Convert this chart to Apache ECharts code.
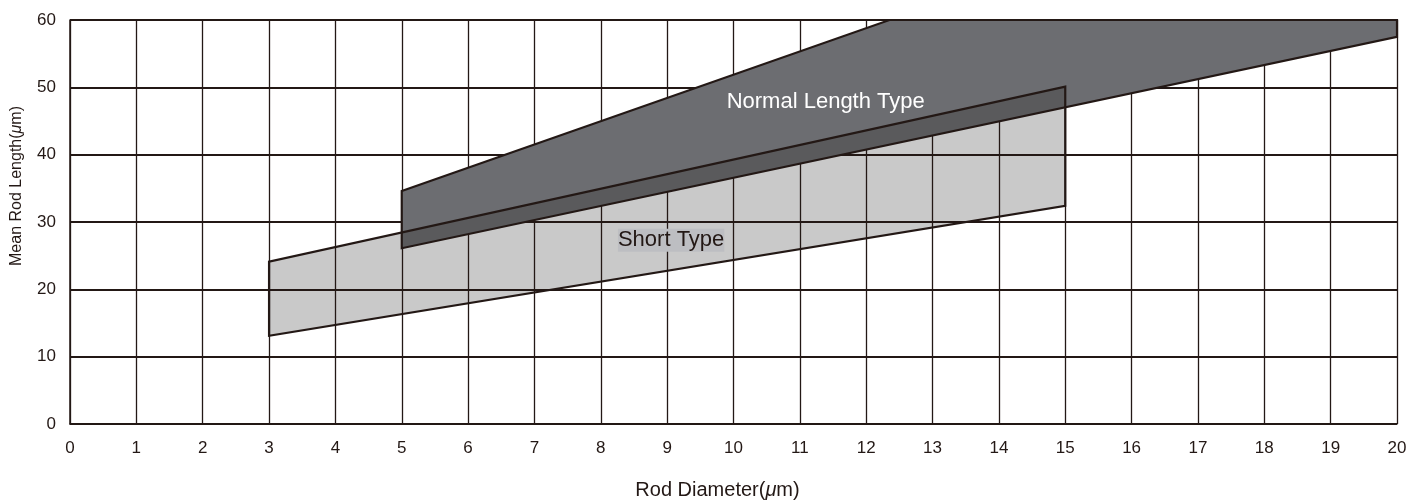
<!DOCTYPE html>
<html>
<head>
<meta charset="utf-8">
<script src="https://cdn.jsdelivr.net/npm/echarts@6/dist/echarts.min.js"></script>
<style>html,body{margin:0;padding:0;background:#fff}#c{width:1424px;height:500px}</style>
</head>
<body>
<div id="c"></div>
<script>
// Polygon vertices (Rod Diameter, Mean Rod Length)
const shortX = [3, 3, 15, 15];
const shortY = [13.1, 24.1, 50.1, 32.4];
const normalX = [5, 5, 12.35, 20, 20];
const normalY = [26.1, 34.6, 60, 60, 57.5];
// Labels
const labelNames = ['Normal Length Type', 'Short Type'];
const labelX = [11.39, 9.06];
const labelY = [47.9, 27.3];
const xTicks = [0,1,2,3,4,5,6,7,8,9,10,11,12,13,14,15,16,17,18,19,20];
const yTicks = [0,10,20,30,40,50,60];

const INK = '#231815';
const FONT = "'Liberation Sans Narrow', 'Liberation Sans', Arial, sans-serif";
const FONT2 = "'Liberation Sans', Arial, sans-serif";

function pts(xs, ys) { return xs.map((x, i) => [x, ys[i]]); }
const shortPoly = pts(shortX, shortY);
const normalPoly = pts(normalX, normalY);

// Sutherland-Hodgman clip (subject by convex clip polygon)
function area(p) { let s = 0; for (let i = 0; i < p.length; i++) { const a = p[i], b = p[(i + 1) % p.length]; s += a[0] * b[1] - b[0] * a[1]; } return s / 2; }
function clip(subject, clipPoly) {
  const sign = area(clipPoly) > 0 ? 1 : -1;
  let out = subject.slice();
  for (let i = 0; i < clipPoly.length; i++) {
    const A = clipPoly[i], B = clipPoly[(i + 1) % clipPoly.length];
    const cr = p => (B[0] - A[0]) * (p[1] - A[1]) - (B[1] - A[1]) * (p[0] - A[0]);
    const inside = p => sign * cr(p) >= -1e-9;
    const inter = (P, Q) => { const d1 = cr(P), d2 = cr(Q); const t = d1 / (d1 - d2); return [P[0] + t * (Q[0] - P[0]), P[1] + t * (Q[1] - P[1])]; };
    const inp = out; out = [];
    for (let j = 0; j < inp.length; j++) {
      const P = inp[j], Q = inp[(j + 1) % inp.length];
      const pi = inside(P), qi = inside(Q);
      if (pi) { out.push(P); if (!qi) out.push(inter(P, Q)); }
      else if (qi) { out.push(inter(P, Q)); }
    }
    if (!out.length) break;
  }
  return out;
}
const overlapPoly = clip(shortPoly, normalPoly);

function polySeries(poly, fill, stroke, z) {
  return {
    type: 'custom', z: z, silent: true, clip: false,
    data: poly,
    renderItem: function (params, api) {
      if (params.dataIndex !== 0) return null;
      return {
        type: 'polygon',
        shape: { points: poly.map(p => api.coord(p)) },
        style: { fill: fill, stroke: stroke, lineWidth: 2.2, lineJoin: 'miter' }
      };
    }
  };
}

const chart = echarts.init(document.getElementById('c'), null, { renderer: 'canvas' });
chart.setOption({
  animation: false,
  backgroundColor: '#fff',
  grid: { left: 70, right: 27, top: 20, bottom: 76, containLabel: false, outerBoundsMode: 'none' },
  xAxis: {
    type: 'value', min: 0, max: 20, interval: 1, z: 1,
    axisLine: { show: true, lineStyle: { color: INK, width: 1.5 } },
    axisTick: { show: false },
    splitLine: { show: true, lineStyle: { color: INK, width: 1.3 } },
    axisLabel: { color: '#231815', fontFamily: FONT, fontSize: 17, margin: 16,
      formatter: v => xTicks.includes(v) ? String(v) : '' },
    name: 'Rod Diameter({mu|μ}m)',
    nameLocation: 'middle', nameGap: 56,
    nameTextStyle: { color: INK, fontFamily: FONT2, fontSize: 20, padding: [0, 32, 0, 0],
      rich: { mu: { fontFamily: FONT2, fontSize: 20, fontStyle: 'italic', color: INK } } }
  },
  yAxis: {
    type: 'value', min: 0, max: 60, interval: 10, z: 1,
    axisLine: { show: true, lineStyle: { color: INK, width: 1.5 } },
    axisTick: { show: false },
    splitLine: { show: true, lineStyle: { color: INK, width: 2 } },
    axisLabel: { color: '#231815', fontFamily: FONT, fontSize: 17, margin: 14,
      formatter: v => yTicks.includes(v) ? String(v) : '' },
    name: 'Mean Rod Length({mu|μ}m)',
    nameLocation: 'middle', nameGap: 45,
    nameTextStyle: { color: INK, fontFamily: FONT2, fontSize: 16, padding: [0, 0, 0, 72],
      rich: { mu: { fontFamily: FONT2, fontSize: 16, fontStyle: 'italic', color: INK } } }
  },
  series: [
    polySeries(shortPoly, '#c9c9c9', 'none', 0),
    polySeries(normalPoly, '#6c6d71', 'none', 2),
    polySeries(overlapPoly, '#5a5a5c', 'none', 3),
    polySeries(shortPoly, 'none', INK, 4),
    polySeries(normalPoly, 'none', INK, 4),
    {
      type: 'custom', z: 5, silent: true, clip: false,
      data: labelNames.map((n, i) => [labelX[i], labelY[i], i]),
      renderItem: function (params, api) {
        const i = params.dataIndex;
        const p = api.coord([api.value(0), api.value(1)]);
        const isShort = i === 1;
        return {
          type: 'text',
          x: p[0], y: p[1],
          style: {
            text: labelNames[i],
            fill: isShort ? INK : '#ffffff',
            font: '22px ' + FONT2,
            align: 'center', verticalAlign: 'middle',
            backgroundColor: isShort ? '#bdbec2' : 'transparent',
            padding: isShort ? [1, 0, 0, 0] : 0
          }
        };
      }
    }
  ]
});
</script>
</body>
</html>
